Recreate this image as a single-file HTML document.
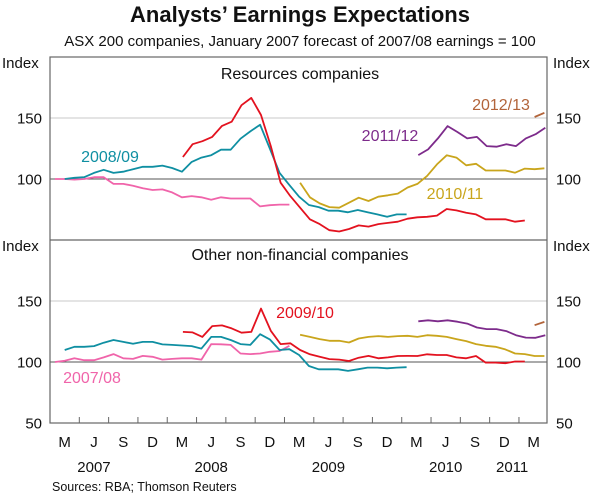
<!DOCTYPE html>
<html><head><meta charset="utf-8"><style>
body{margin:0;background:#fff;}
svg text{font-family:"Liberation Sans",Arial,sans-serif;fill:#111;}
</style></head><body>
<svg id="chart" width="600" height="498" viewBox="0 0 600 498" xmlns="http://www.w3.org/2000/svg">
<text x="300" y="22" font-size="22" font-weight="bold" text-anchor="middle">Analysts’ Earnings Expectations</text>
<text x="300" y="46" font-size="15" text-anchor="middle">ASX 200 companies, January 2007 forecast of 2007/08 earnings = 100</text>
<g id="grid"></g>
<g id="series"></g>
<g id="axes"></g>
<text x="52" y="491" font-size="12.5">Sources: RBA; Thomson Reuters</text>
</svg>
<script>
const yTicks=[50,100,150];
const monthLabels=["M","J","S","D","M","J","S","D","M","J","S","D","M","J","S","D","M"];
const yearLabels=["2007","2008","2009","2010","2011"];
const yearPos=[4.5,16.5,28.5,40.5,47.3];
// Resources (top panel) series
const resPink=[100,100,99.5,100,101.5,101.5,96,96,94.5,92.5,91,91.5,89,85,86,85,83,85,84,84,84,77.5,78.5,79,79];
const resTeal=[100,101,101.5,105,107.5,105,106,108,110,110,111,109,106,114,117.5,119.5,124,124,133,139,144.5,125,105,95,85.5,78.7,77,74,74,72.7,74.6,72.7,71,69,71,71];
const resRed=[118,128.5,131,134.5,143.5,147,160.5,166.5,152.5,127,97,86,76.5,67,63,58,57,59,62,61,63,64,65,67.5,68.6,69,70,75.4,74.3,72.4,71,67,67,67,65,66];
const resGold=[97,85,80,77,76.5,80.6,84.7,82,85.5,86.6,88,93,96,102.5,112,119.4,117.5,111.2,112.5,107,107,107,105.2,108.5,108,108.8];
const resPurple=[119.6,124.3,133.3,143.4,138.5,133.3,134.5,127,126.5,128.5,127,133.3,136.7,142];
const resBrown=[150.8,154.3];
// Other non-financial (bottom panel) series
const othPink=[100,101,103,101.5,101.5,103.8,106.5,103,102.5,105,104.3,102,102.5,103,103,102,114.7,114.5,114,107,106.5,107,108.4,109,113.3];
const othTeal=[109.8,112.5,112.5,113,115.8,118,116.5,115,116.5,116.5,114.4,114,113.5,113,111,120.6,120.6,118,114.7,114,122.8,118.5,109.8,110.5,105.7,96.7,94,94,94,92.7,94,95.4,95.4,94.8,95.4,95.7];
const othRed=[124.7,124.3,120.6,129.4,130,127.5,124,124.7,143.8,125.6,114.7,115.3,109.8,106.3,104.3,102.4,102,100.8,103.5,105,103,103.8,104.9,105,104.9,106.3,105.7,105.7,103.8,103,104.9,99.5,99.5,99,100.4,100.4];
const othGold=[122.3,120.6,118.8,117.4,117.4,116,119.3,120.6,121.2,120.6,121.2,121.5,120.6,122,121.5,120.6,118.8,117.1,114.7,113.3,112.5,110.3,107,106.5,104.9,104.9];
const othPurple=[133.4,134.2,133.4,134.2,133,131.5,128.3,127,127,125.3,122,120,119.8,122];
const othBrown=[130.2,132.9];

const X0=50,X1=547,PXM=9.77;
const panels=[{top:57,bot:240},{top:240,bot:423}];
function xm(m){return X0+m*PXM;}
function yv(p,v){const P=panels[p];return P.bot-(v-50)/150*(P.bot-P.top);}
const NS="http://www.w3.org/2000/svg";
function mk(tag,attrs,parent){const e=document.createElementNS(NS,tag);for(const k in attrs)e.setAttribute(k,attrs[k]);parent.appendChild(e);return e;}
const grid=document.getElementById('grid'),ser=document.getElementById('series'),ax=document.getElementById('axes');
panels.forEach((P,p)=>{
  const g1=mk('line',{x1:X0,x2:X1,y1:yv(p,150),y2:yv(p,150),stroke:'#c8c8c8','stroke-width':1},grid);
  
  
  const g2=mk('line',{x1:X0,x2:X1,y1:yv(p,100),y2:yv(p,100),stroke:'#555','stroke-width':1},grid);
  
  
  yTicks.forEach(t=>{
    if(p===0&&t===50)return;
    const a=mk('text',{x:42,y:yv(p,t)+5.5,'font-size':15,'text-anchor':'end'},ax);a.textContent=t;
    
    
    const b=mk('text',{x:556,y:yv(p,t)+5.5,'font-size':15},ax);b.textContent=t;
    
    
  });
  const il=mk('text',{x:2,y:P.top+11,'font-size':15},ax);il.textContent='Index';
  
  
  const ir=mk('text',{x:553,y:P.top+11,'font-size':15},ax);ir.textContent='Index';
  
  
});
const frame=mk('rect',{x:X0,y:57,width:X1-X0,height:366,fill:'none',stroke:'#666','stroke-width':1.2},ax);


const sep=mk('line',{x1:X0,x2:X1,y1:240,y2:240,stroke:'#666','stroke-width':1.2},ax);


for(let k=1;k<17;k++){
  const t=mk('line',{x1:xm(k*3),x2:xm(k*3),y1:423,y2:417,stroke:'#666','stroke-width':1},ax);
  
  
}
monthLabels.forEach((l,i)=>{
  const t=mk('text',{x:xm(i*3+1.5),y:447,'font-size':15,'text-anchor':'middle'},ax);t.textContent=l;
  
  
});
yearLabels.forEach((l,i)=>{
  const t=mk('text',{x:xm(yearPos[i]),y:472,'font-size':15,'text-anchor':'middle'},ax);t.textContent=l;
  
  
});
const cols={pink:'#f064aa',teal:'#0f8fa2',red:'#e3121f',gold:'#c9a51c',purple:'#7d2b8b',brown:'#b2643a'};
function line(p,data,start,col,name){
  const pts=data.map((v,i)=>xm(start+i).toFixed(1)+','+yv(p,v).toFixed(1)).join(' ');
  const e=mk('polyline',{points:pts,fill:'none',stroke:col,'stroke-width':1.8,'stroke-linejoin':'round'},ser);
  
  
}
line(0,resPink,0.5,cols.pink,'resources-2007-08-line');
line(0,resTeal,1.5,cols.teal,'resources-2008-09-line');
line(0,resRed,13.6,cols.red,'resources-2009-10-line');
line(0,resGold,25.6,cols.gold,'resources-2010-11-line');
line(0,resPurple,37.7,cols.purple,'resources-2011-12-line');
line(0,resBrown,49.6,cols.brown,'resources-2012-13-line');
line(1,othPink,0.5,cols.pink,'other-2007-08-line');
line(1,othTeal,1.5,cols.teal,'other-2008-09-line');
line(1,othRed,13.6,cols.red,'other-2009-10-line');
line(1,othGold,25.6,cols.gold,'other-2010-11-line');
line(1,othPurple,37.7,cols.purple,'other-2011-12-line');
line(1,othBrown,49.6,cols.brown,'other-2012-13-line');
function lab(x,y,txt,col,name,anchor){
  const t=mk('text',{x:x,y:y,'font-size':16,'text-anchor':anchor||'middle',fill:col},ax);t.textContent=txt;
  t.style.fill=col;
  
  
}
lab(300,79,'Resources companies','#111','panel-title-resources');
lab(300,260,'Other non-financial companies','#111','panel-title-other');
lab(110,162,'2008/09',cols.teal,'label-2008-09');
lab(501,110,'2012/13',cols.brown,'label-2012-13');
lab(390,141,'2011/12',cols.purple,'label-2011-12');
lab(455,199,'2010/11',cols.gold,'label-2010-11');
lab(305,318,'2009/10',cols.red,'label-2009-10');
lab(92,383,'2007/08',cols.pink,'label-2007-08');
</script>
</body></html>
